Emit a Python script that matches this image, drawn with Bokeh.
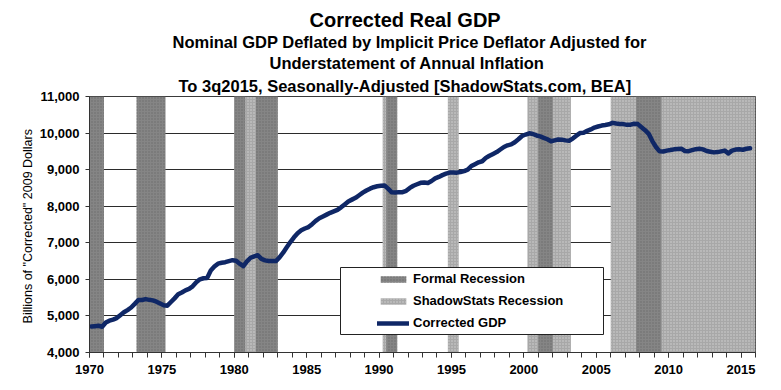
from bokeh.plotting import figure
from bokeh.models import (FixedTicker, NumeralTickFormatter, Legend, LegendItem,
                          BoxAnnotation, Title, Range1d)
from bokeh.embed import file_html
from bokeh.resources import INLINE

# ---------------- data ----------------
first_year = 1970
# quarterly Corrected Real GDP, 1970Q1 .. 2015Q3 (billions of "corrected" 2009 dollars)
gdp_values = [
    4710, 4720, 4730, 4705,   # 1970
    4820, 4870, 4900, 4940,   # 1971
    5020, 5100, 5160, 5230,   # 1972
    5330, 5436, 5436, 5460,   # 1973
    5440, 5425, 5390, 5340,   # 1974
    5290, 5280, 5380, 5480,   # 1975
    5590, 5640, 5700, 5740,   # 1976
    5810, 5920, 6000, 6030,   # 1977
    6040, 6240, 6350, 6430,   # 1978
    6455, 6470, 6500, 6525,   # 1979
    6510, 6430, 6360, 6490,   # 1980
    6590, 6630, 6660, 6560,   # 1981
    6520, 6500, 6500, 6500,   # 1982
    6600, 6730, 6880, 7020,   # 1983
    7150, 7260, 7340, 7390,   # 1984
    7430, 7510, 7600, 7670,   # 1985
    7720, 7770, 7820, 7860,   # 1986
    7900, 7970, 8050, 8130,   # 1987
    8180, 8230, 8300, 8370,   # 1988
    8430, 8480, 8520, 8545,   # 1989
    8560, 8565, 8480, 8380,   # 1990
    8375, 8385, 8385, 8420,   # 1991
    8500, 8560, 8600, 8640,   # 1992
    8650, 8636, 8690, 8760,   # 1993
    8800, 8850, 8890, 8920,   # 1994
    8925, 8918, 8935, 8960,   # 1995
    9000, 9100, 9150, 9200,   # 1996
    9230, 9320, 9380, 9430,   # 1997
    9480, 9550, 9620, 9665,   # 1998
    9690, 9750, 9830, 9920,   # 1999
    9960, 9995, 9975, 9935,   # 2000
    9910, 9870, 9830, 9775,   # 2001
    9800, 9825, 9820, 9800,   # 2002
    9790, 9850, 9930, 10000,  # 2003
    10010, 10060, 10100, 10150,  # 2004
    10180, 10205, 10220, 10240,  # 2005
    10280, 10260, 10250, 10245,  # 2006
    10225, 10230, 10255, 10245,  # 2007
    10160, 10080, 9980, 9780,    # 2008
    9620, 9500, 9495, 9520,      # 2009
    9535, 9555, 9565, 9573,      # 2010
    9510, 9505, 9535, 9560,      # 2011
    9573, 9555, 9510, 9490,      # 2012
    9472, 9480, 9500, 9520,      # 2013
    9445, 9520, 9550, 9555,      # 2014
    9545, 9570, 9582,            # 2015 (to 3q)
]

formal_start = [1970.0, 1973.25, 1980.0, 1981.5, 1990.5, 2001.0, 2007.75]
formal_end   = [1971.0, 1975.25, 1980.75, 1983.0, 1991.25, 2002.0, 2009.5]
shadow_start = [1980.0, 1990.25, 1994.75, 2000.25, 2006.0]
shadow_end   = [1983.0, 1991.25, 1995.5, 2003.25, 2016.0]

y_ticks = [4000, 5000, 6000, 7000, 8000, 9000, 10000, 11000]
x_major = [1970, 1975, 1980, 1985, 1990, 1995, 2000, 2005, 2010, 2015]
x_minor = list(range(1970, 2017))
x_lo, x_hi = 1970, 2016
y_lo, y_hi = 4000, 11000

title_lines = [
    "Corrected Real GDP",
    "Nominal GDP Deflated by Implicit Price Deflator Adjusted for",
    "Understatement of Annual Inflation",
    "To 3q2015, Seasonally-Adjusted [ShadowStats.com, BEA]",
]
y_label = 'Billions  of "Corrected" 2009 Dollars'
legend_labels = ["Formal Recession", "ShadowStats Recession", "Corrected GDP"]

# ---------------- figure ----------------
FONT = "Liberation Sans"
gdp_x = [first_year + i // 4 + ((i % 4) + 0.5) / 4 for i in range(len(gdp_values))]

p = figure(width=781, height=390, output_backend="svg", toolbar_location=None,
           x_range=Range1d(x_lo, x_hi), y_range=Range1d(y_lo, y_hi),
           min_border_left=89, min_border_right=26, min_border_top=96,
           min_border_bottom=38)
p.background_fill_color = "white"
p.border_fill_color = "white"
p.outline_line_color = "#3a3a3a"
p.outline_line_width = 1
p.title.visible = False

# grid
p.xgrid.visible = False
p.ygrid.ticker = FixedTicker(ticks=y_ticks)
p.ygrid.grid_line_color = "#2b2b2b"
p.ygrid.grid_line_width = 1

# shading
r_shadow = p.quad(left=shadow_start, right=shadow_end,
                  bottom=[y_lo] * len(shadow_start), top=[y_hi] * len(shadow_start),
                  fill_color="#a8a8a8", line_color=None,
                  hatch_pattern="dot", hatch_color="#d2d2d2", hatch_scale=3, hatch_weight=1)
r_formal = p.quad(left=formal_start, right=formal_end,
                  bottom=[y_lo] * len(formal_start), top=[y_hi] * len(formal_start),
                  fill_color="#858585", line_color=None,
                  hatch_pattern="dot", hatch_color="#6a6a6a", hatch_scale=3, hatch_weight=1)

# line
r_line = p.line(gdp_x, gdp_values, line_color="#0f2766", line_width=4.5,
                line_join="round", line_cap="round")

# axes
p.xaxis.ticker = FixedTicker(ticks=x_major, minor_ticks=x_minor)
p.xaxis.major_tick_out = 5
p.xaxis.major_tick_in = 0
p.xaxis.minor_tick_out = 5
p.xaxis.minor_tick_in = 0
p.xaxis.major_label_standoff = 7
p.xaxis.major_label_text_font = FONT
p.xaxis.major_label_text_font_style = "bold"
p.xaxis.major_label_text_font_size = "13px"
p.xaxis.major_label_text_color = "black"
p.xaxis.axis_line_color = "#333333"
p.xaxis.major_tick_line_color = "#333333"
p.xaxis.minor_tick_line_color = "#333333"

p.yaxis.ticker = FixedTicker(ticks=y_ticks, minor_ticks=[])
p.yaxis.formatter = NumeralTickFormatter(format="0,0")
p.yaxis.major_tick_out = 4
p.yaxis.major_tick_in = 0
p.yaxis.major_label_standoff = 6
p.yaxis.major_label_text_font = FONT
p.yaxis.major_label_text_font_style = "bold"
p.yaxis.major_label_text_font_size = "13px"
p.yaxis.major_label_text_color = "black"
p.yaxis.axis_line_color = "#333333"
p.yaxis.major_tick_line_color = "#333333"
p.yaxis.axis_label = y_label
p.yaxis.axis_label_text_font = FONT
p.yaxis.axis_label_text_font_style = "normal"
p.yaxis.axis_label_text_font_size = "12.5px"
p.yaxis.axis_label_text_color = "black"
p.yaxis.axis_label_standoff = 2

# titles: added bottom line first so they stack upward (standoff = gap above each line)
title_sizes = ["20px", "16.5px", "16.5px", "16.5px"]
title_offsets = [220, 83, 180, 89]
title_standoffs = [0, 0, 3, 3]
for txt, size, off, so in reversed(list(zip(title_lines, title_sizes, title_offsets, title_standoffs))):
    p.add_layout(Title(text=txt, align="left", offset=off, standoff=so,
                       text_font=FONT, text_font_style="bold", text_font_size=size,
                       text_color="black"), "above")

# legend box
p.add_layout(BoxAnnotation(left=251, right=514, bottom=18, top=85,
                           left_units="screen", right_units="screen",
                           bottom_units="screen", top_units="screen",
                           fill_color="white", fill_alpha=1.0,
                           line_color="#222222", line_width=1, line_alpha=1.0))

legend = Legend(items=[LegendItem(label=legend_labels[0], renderers=[r_formal]),
                       LegendItem(label=legend_labels[1], renderers=[r_shadow]),
                       LegendItem(label=legend_labels[2], renderers=[r_line])],
                location=(286, 17), orientation="vertical",
                padding=2, spacing=1, margin=0,
                glyph_width=32, glyph_height=8, label_height=21,
                label_standoff=4,
                label_text_font=FONT, label_text_font_style="bold",
                label_text_font_size="13px", label_text_color="black",
                background_fill_alpha=0, border_line_alpha=0)
p.add_layout(legend, "center")

open("out.html", "w").write(file_html(p, INLINE))
